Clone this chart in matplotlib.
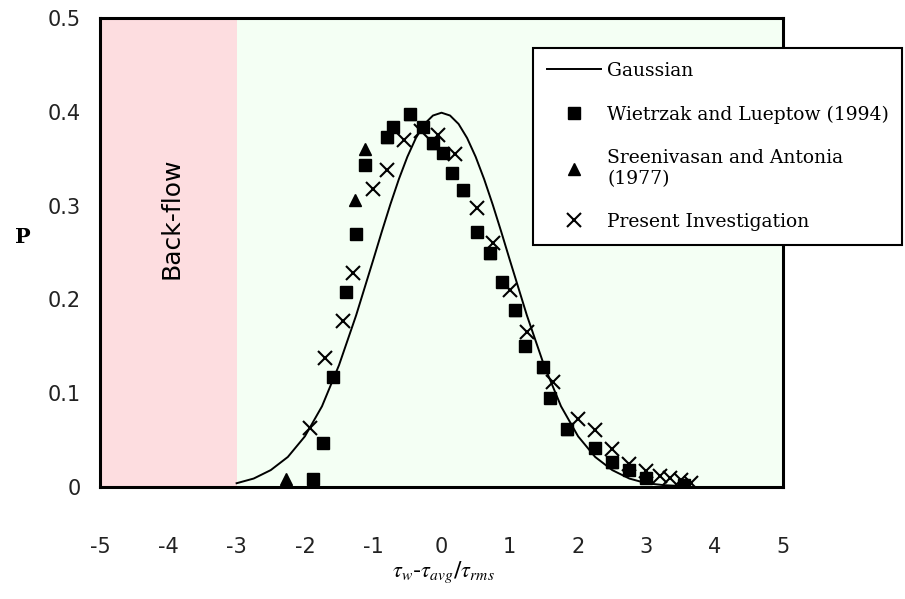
import numpy as np
import matplotlib.pyplot as plt

plt.rcParams['axes.unicode_minus'] = False
plt.rcParams['mathtext.fontset'] = 'stix'

# Gaussian curve
gauss_x = [-3.0, -2.75, -2.5, -2.25, -2.0, -1.75, -1.5, -1.25, -1.0, -0.875, -0.75, -0.625, -0.5,
           -0.375, -0.25, -0.125, 0.0, 0.125, 0.25, 0.375, 0.5, 0.625, 0.75, 0.875, 1.0, 1.25,
           1.5, 1.75, 2.0, 2.25, 2.5, 2.75, 3.0, 3.25, 3.5]
gauss_p = [0.004, 0.009, 0.018, 0.032, 0.054, 0.086, 0.130, 0.183, 0.242, 0.272, 0.301, 0.328, 0.352,
           0.372, 0.387, 0.396, 0.399, 0.396, 0.387, 0.372, 0.352, 0.328, 0.301, 0.272, 0.242, 0.183,
           0.130, 0.086, 0.054, 0.032, 0.018, 0.009, 0.004, 0.002, 0.001]

# Wietrzak and Lueptow (1994) - squares
wl_x = [-1.88, -1.74, -1.59, -1.40, -1.25, -1.12, -0.80, -0.71, -0.46, -0.27, -0.12, 0.02, 0.15,
        0.31, 0.52, 0.71, 0.88, 1.08, 1.22, 1.49, 1.59, 1.84, 2.25, 2.5, 2.75, 3.0, 3.55]
wl_p = [0.008, 0.047, 0.117, 0.208, 0.270, 0.343, 0.373, 0.384, 0.398, 0.384, 0.367, 0.356, 0.335,
        0.317, 0.272, 0.249, 0.218, 0.189, 0.150, 0.128, 0.095, 0.062, 0.042, 0.027, 0.018, 0.010, 0.002]

# Sreenivasan and Antonia (1977) - triangles
sa_x = [-2.28, -1.27, -1.12, -0.80, -0.46, -0.12, 0.31, 0.71, 1.08, 1.49, 1.84, 2.5]
sa_p = [0.008, 0.306, 0.360, 0.373, 0.398, 0.367, 0.317, 0.249, 0.189, 0.128, 0.062, 0.027]

# Present Investigation - crosses
pi_x = [-1.93, -1.71, -1.44, -1.30, -1.0, -0.80, -0.55, -0.3, -0.05, 0.2, 0.52, 0.75, 1.0, 1.25,
        1.63, 2.0, 2.25, 2.5, 2.75, 3.0, 3.2, 3.35, 3.5, 3.65]
pi_p = [0.063, 0.138, 0.177, 0.228, 0.318, 0.338, 0.370, 0.380, 0.375, 0.355, 0.297, 0.260, 0.210,
        0.165, 0.112, 0.073, 0.061, 0.040, 0.025, 0.017, 0.012, 0.010, 0.007, 0.004]

xticks = [-5, -4, -3, -2, -1, 0, 1, 2, 3, 4, 5]
yticks = [0, 0.1, 0.2, 0.3, 0.4, 0.5]
ytick_labels = ['0', '0.1', '0.2', '0.3', '0.4', '0.5']

fig = plt.figure(figsize=(9.05, 5.99), dpi=100)
ax = fig.add_axes([0.1105, 0.187, 0.7547, 0.783])

ax.axvspan(-5, -3, color='#fddde0', lw=0, zorder=0)
ax.axvspan(-3, 5, color='#f4fff4', lw=0, zorder=0)

ax.plot(gauss_x, gauss_p, color='black', lw=1.4, label='Gaussian', zorder=3)
ax.plot(wl_x, wl_p, 's', color='black', ms=8.5, label='Wietrzak and Lueptow (1994)', zorder=5)
ax.plot(sa_x, sa_p, '^', color='black', ms=8.5, label='Sreenivasan and Antonia\n(1977)', zorder=4)
ax.plot(pi_x, pi_p, 'x', color='black', ms=9.5, mew=1.5, label='Present Investigation', zorder=4)

ax.text(-3.95, 0.287, 'Back-flow', rotation=90, ha='center', va='center', fontsize=18)

ax.set_xlim(-5, 5)
ax.set_ylim(0, 0.5)
ax.set_xticks(xticks)
ax.set_xticklabels([str(t) for t in xticks])
ax.set_yticks(yticks)
ax.set_yticklabels(ytick_labels)
ax.tick_params(axis='both', length=0, labelsize=15, labelcolor='#222222')
ax.tick_params(axis='x', pad=36)
ax.tick_params(axis='y', pad=14)
for s in ax.spines.values():
    s.set_linewidth(2.2)
    s.set_color('black')

fig.text(0.49, 0.045, r'$\tau_w$-$\tau_{avg}$/$\tau_{rms}$', ha='center', va='center', fontsize=16)
fig.text(0.025, 0.605, 'P', ha='center', va='center', fontsize=15, fontweight='bold', family='DejaVu Serif')

leg = ax.legend(loc='upper left', bbox_to_anchor=(0.589, 0.5, 0.408, 0.42), bbox_transform=fig.transFigure,
                mode='expand', borderaxespad=0, frameon=True, fancybox=False, framealpha=1,
                edgecolor='black', prop={'family': 'DejaVu Serif', 'size': 13.5},
                handlelength=2.9, handletextpad=0.3, labelspacing=1.35, borderpad=0.75)
leg.get_frame().set_linewidth(1.5)

fig.savefig('out.png', dpi=100)
